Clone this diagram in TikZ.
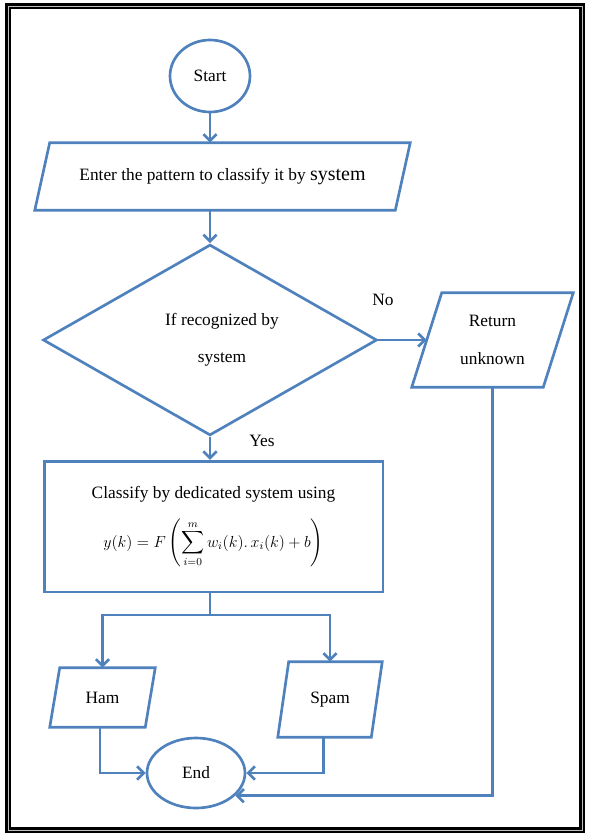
\documentclass[tikz,border=0pt]{standalone}
\usepackage{amsmath}
\usepackage{fontspec}
\setmainfont{Liberation Serif}
\usetikzlibrary{arrows.meta,positioning,shapes.geometric,calc}
\definecolor{flowblue}{RGB}{79,129,189}

\begin{document}
\begin{tikzpicture}[x=0.75pt, y=-0.75pt,
    line/.style={draw=flowblue, line width=2pt},
    arr/.style={line, -{Straight Barb[length=5pt, width=10pt]}},
    term/.style={ellipse, draw=flowblue, line width=2pt, inner sep=0pt, font=\fontsize{13}{15}\selectfont},
    io/.style={rectangle, inner sep=0pt, align=center, font=\fontsize{13}{28}\selectfont},
    decision/.style={diamond, draw=flowblue, line width=2pt, inner sep=0pt, align=center, font=\fontsize{13}{28}\selectfont},
    proc/.style={rectangle, draw=flowblue, line width=2pt, inner sep=0pt, align=center, font=\fontsize{13}{15}\selectfont},
    lbl/.style={font=\fontsize{13}{15}\selectfont},
    border/.style={draw=black, line width=2.2pt, double=gray!50, double distance=0.6pt, inner sep=0pt}]

    \useasboundingbox (0,0) rectangle (589,836);
    \node[border, minimum width=430.5pt, minimum height=618pt] (frame) at (295,418) {};

    \node[term, minimum width=60pt, minimum height=54pt] (start) at (210,76) {Start};
    \node[io, minimum width=270pt, minimum height=50.25pt] (enter) at (222.5,176.5)
          {Enter the pattern to classify it by {\fontsize{15}{16}\selectfont system}};
    \node[decision, minimum width=250.5pt, minimum height=123pt] (check) at (210,340)
          {\hspace*{18pt}If recognized by\\\hspace*{18pt}system};
    \node[io, minimum width=98.25pt, minimum height=70.5pt] (unknown) at (492.5,340) {Return\\unknown};
    \node[proc, minimum width=254pt, minimum height=98pt] (classify) at (213.5,526.5)
          {Classify by dedicated system using\\[12pt]
           {\fontsize{12}{14}\selectfont$y(k)=F\left(\displaystyle\sum_{i=0}^{m} w_i(k).\,x_i(k)+b\right)$}};
    \node[io, minimum width=71.25pt, minimum height=44.25pt] (ham) at (102.5,697.5) {Ham};
    \node[io, minimum width=69.75pt, minimum height=56.25pt] (spam) at (330,699.5) {Spam};
    \node[term, minimum width=73.5pt, minimum height=52.5pt] (end) at (196,773) {End};

    % slanted outlines of the input/output boxes
    \foreach \n/\s in {enter/5.6pt, unknown/11.25pt, ham/3.75pt, spam/4.1pt}
        \draw[line, line join=miter] ([xshift=-\s]\n.south west) -- ([xshift=\s]\n.north west)
            -- ([xshift=\s]\n.north east) -- ([xshift=-\s]\n.south east) -- cycle;

    \node[lbl] (no) at (383,300) {No};
    \node[lbl] (yes) at (262,441) {Yes};
    \coordinate (fork) at (210,615);

    \draw[arr] (start.south) -- (start.south |- enter.north);
    \draw[arr] (start.south |- enter.south) -- (check.north);
    \draw[arr] (check.east) -- (unknown.west);
    \draw[arr] (check.south) -- (check.south |- classify.north);
    \draw[line] (check.south |- classify.south) -- (fork);
    \draw[arr] (fork) -| (ham.north);
    \draw[arr] (fork) -| (spam.north);
    \draw[arr] ([xshift=-2pt]ham.south) |- (end.west);
    \draw[arr] ([xshift=-5pt]spam.south) |- (end.east);
    \draw[arr] (unknown.south) |- (end.-30);
\end{tikzpicture}
\end{document}
